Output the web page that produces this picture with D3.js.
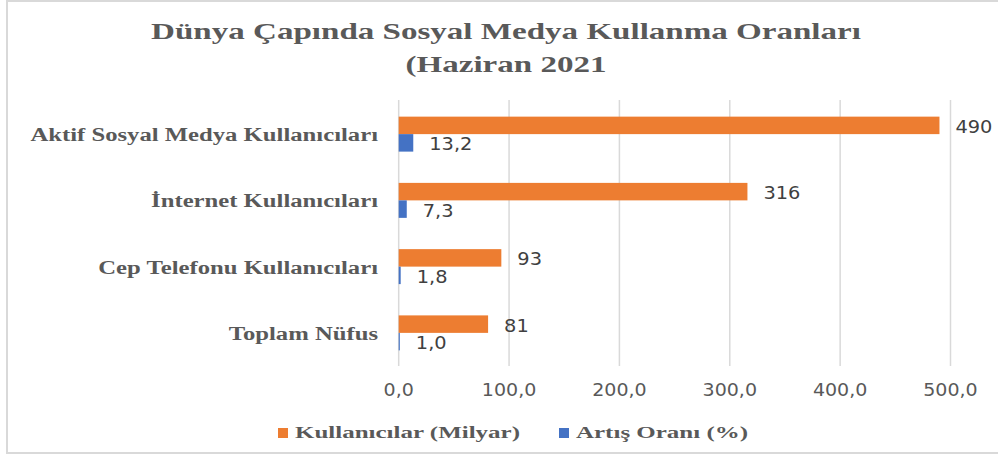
<!DOCTYPE html>
<html>
<head>
<meta charset="utf-8">
<script src="https://cdn.jsdelivr.net/npm/d3@7"></script>
<style>
  html, body { margin: 0; padding: 0; background: #ffffff; }
  svg { display: block; }
</style>
</head>
<body>
<svg id="chart" width="998" height="465"></svg>
<script>
// ---- data ----
const categories = ["Aktif Sosyal Medya Kullanıcıları", "İnternet Kullanıcıları", "Cep Telefonu Kullanıcıları", "Toplam Nüfus"];
const usersValues = [490, 316, 93, 81];
const growthValues = [13.2, 7.3, 1.8, 1.0];
const seriesNames = ["Kullanıcılar (Milyar)", "Artış Oranı (%)"];
const xTicks = [0, 100, 200, 300, 400, 500];
const titleLines = ["Dünya Çapında Sosyal Medya Kullanma Oranları", "(Haziran 2021"];

// ---- styles / layout ----
const colors = ["#ED7D31", "#4472C4"];
const serif = "'Liberation Serif', 'Times New Roman', serif";
const sans = "'DejaVu Sans', Verdana, sans-serif";
const svg = d3.select("#chart");

// frame
svg.append("rect").attr("x", 7).attr("y", 1).attr("width", 1010).attr("height", 452)
  .attr("fill", "#fff").attr("stroke", "#d9d9d9").attr("stroke-width", 2);

const x = d3.scaleLinear().domain([0, 500]).range([398.7, 950.5]);
const y = d3.scaleBand().domain(categories).range([101, 366]).paddingInner(0.472).paddingOuter(0.236);
const ySub = d3.scaleBand().domain(seriesNames).range([0, y.bandwidth()]);
const fmt1 = v => d3.format(".1f")(v).replace(".", ",");

function stretchText(g, px, py, sx, txt) {
  return g.append("text").attr("transform", `translate(${px},${py}) scale(${sx},1)`).text(txt);
}

// title
titleLines.forEach((t, i) => {
  stretchText(svg, 506, i === 0 ? 38.5 : 71.5, 1.47, t)
    .attr("text-anchor", "middle").attr("font-family", serif).attr("font-weight", "bold")
    .attr("font-size", 22.5).attr("fill", "#595959");
});

// gridlines
svg.append("g").selectAll("line").data(xTicks).join("line")
  .attr("x1", d => x(d)).attr("x2", d => x(d))
  .attr("y1", 100).attr("y2", 366)
  .attr("stroke", "#d9d9d9").attr("stroke-width", 1.5);

// x tick labels
svg.append("g").selectAll("g").data(xTicks).join("g").each(function(d) {
  stretchText(d3.select(this), x(d), 396, 1.12, fmt1(d))
    .attr("text-anchor", "middle").attr("font-family", sans).attr("font-size", 17).attr("fill", "#595959");
});

// category labels
categories.forEach(c => {
  stretchText(svg, 378, y(c) + y.bandwidth() / 2 + 7, 1.3, c)
    .attr("text-anchor", "end").attr("font-family", serif).attr("font-weight", "bold")
    .attr("font-size", 19).attr("fill", "#595959");
});

// bars
const seriesData = [usersValues, growthValues];
seriesData.forEach((vals, si) => {
  const g = svg.append("g");
  g.selectAll("rect").data(vals).join("rect")
    .attr("x", x(0))
    .attr("y", (d, i) => y(categories[i]) + ySub(seriesNames[si]))
    .attr("width", d => x(d) - x(0))
    .attr("height", ySub.bandwidth())
    .attr("fill", colors[si]);
  vals.forEach((d, i) => {
    stretchText(g, x(d) + 16, y(categories[i]) + ySub(seriesNames[si]) + ySub.bandwidth() / 2 + 7.5, 1.14,
      si === 0 ? d3.format("d")(d) : fmt1(d))
      .attr("text-anchor", "start").attr("font-family", sans).attr("font-size", 17).attr("fill", "#404040");
  });
});

// legend
let lx = 278;
seriesNames.forEach((s, i) => {
  svg.append("rect").attr("x", lx).attr("y", 428).attr("width", 10).attr("height", 10).attr("fill", colors[i]);
  const t = stretchText(svg, lx + 17, 438, 1.47, s)
    .attr("font-family", serif).attr("font-weight", "bold").attr("font-size", 17).attr("fill", "#595959");
  const w = t.node().getComputedTextLength() * 1.47;
  lx = lx + 17 + w + 39;
});
</script>
</body>
</html>
